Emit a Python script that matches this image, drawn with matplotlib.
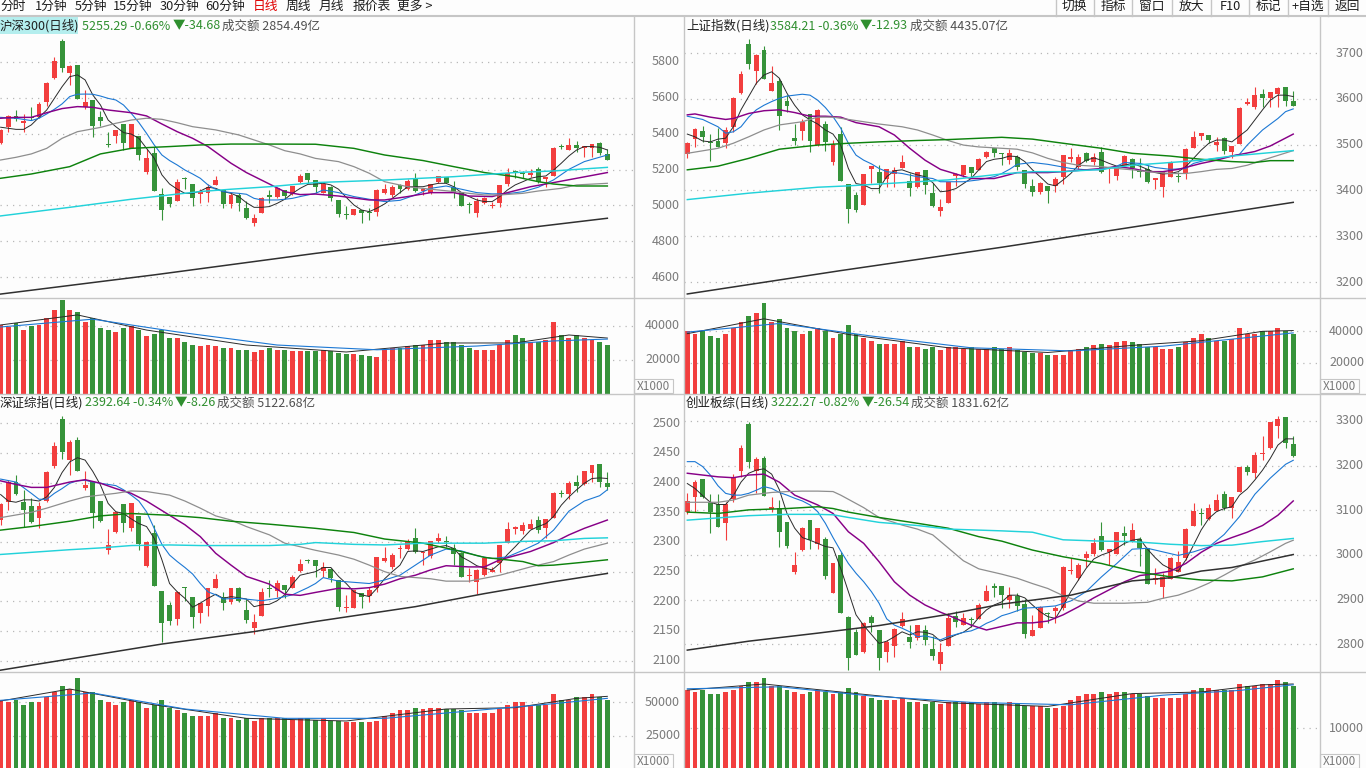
import numpy as np
import matplotlib.pyplot as plt
from matplotlib.lines import Line2D
from matplotlib.patches import Rectangle
from matplotlib.transforms import blended_transform_factory

plt.rcParams["font.family"] = ["Noto Sans CJK SC", "DejaVu Sans"]

# =========================
# DATA  (80 daily candles per index, volume in x1000)
# =========================

# --- 沪深300 ---
hs_open = [5346, 5435, 5499, 5458, 5491, 5491, 5579, 5709, 5919, 5737,
           5784, 5547, 5588, 5491, 5343, 5388, 5454, 5318, 5387, 5188,
           5294, 5063, 5049, 5027, 5151, 5120, 5062, 5067, 5114, 5086,
           5008, 5058, 4984, 4903, 4959, 5056, 5049, 5086, 5062, 5132,
           5179, 5142, 5071, 5101, 5030, 4952, 4946, 4974, 4965, 4965,
           5067, 5058, 5114, 5090, 5155, 5082, 5071, 5132, 5160, 5105,
           5077, 5008, 4959, 5011, 4997, 5011, 5117, 5192, 5179, 5170,
           5201, 5145, 5164, 5328, 5309, 5337, 5318, 5322, 5350, 5287]
hs_close = [5421, 5499, 5480, 5472, 5486, 5566, 5685, 5808, 5769, 5778,
            5594, 5579, 5440, 5473, 5336, 5421, 5346, 5454, 5281, 5263,
            5082, 4974, 5008, 5129, 5145, 5039, 5080, 5101, 5142, 5008,
            5058, 5015, 4928, 4928, 5039, 5049, 5095, 5054, 5108, 5166,
            5142, 5105, 5119, 5039, 4952, 4946, 4980, 4956, 4959, 5086,
            5090, 5105, 5092, 5138, 5080, 5090, 5119, 5164, 5127, 5071,
            4996, 5004, 5024, 5043, 5002, 5114, 5183, 5183, 5173, 5183,
            5132, 5160, 5322, 5324, 5337, 5322, 5331, 5343, 5290, 5253]
hs_high = [5425, 5504, 5532, 5508, 5547, 5579, 5690, 5826, 5928, 5784,
           5784, 5644, 5588, 5527, 5411, 5421, 5454, 5454, 5387, 5313,
           5324, 5095, 5049, 5146, 5156, 5120, 5090, 5120, 5164, 5086,
           5071, 5067, 5027, 4952, 5049, 5086, 5105, 5086, 5108, 5173,
           5179, 5142, 5127, 5108, 5030, 4997, 4980, 4974, 4984, 5090,
           5120, 5114, 5120, 5146, 5179, 5095, 5119, 5164, 5160, 5136,
           5077, 5021, 5039, 5049, 5021, 5114, 5207, 5197, 5194, 5201,
           5216, 5160, 5328, 5343, 5374, 5359, 5331, 5343, 5354, 5313]
hs_low = [5340, 5411, 5473, 5411, 5476, 5486, 5555, 5704, 5746, 5672,
          5594, 5536, 5384, 5440, 5324, 5350, 5309, 5318, 5253, 5175,
          5082, 4919, 4989, 5027, 5090, 4999, 5015, 5021, 5114, 4984,
          4984, 4969, 4922, 4885, 4959, 5015, 5040, 5034, 5058, 5123,
          5127, 5067, 5067, 5026, 4937, 4924, 4946, 4904, 4919, 4941,
          5063, 5049, 5071, 5086, 5077, 5058, 5063, 5127, 5123, 5043,
          4996, 4959, 4933, 5008, 4984, 4989, 5108, 5155, 5155, 5160,
          5123, 5104, 5164, 5313, 5309, 5300, 5272, 5268, 5279, 5253]
hs_vol = [40600, 39400, 41700, 37600, 40000, 40600, 44700, 49400, 55300, 49400,
          48200, 42300, 44700, 38800, 37600, 36500, 38800, 40000, 37600, 34100,
          35300, 37600, 32900, 32900, 30600, 28800, 28200, 28800, 28200, 27000,
          27000, 25900, 25900, 24700, 25900, 27000, 26000, 26000, 25500, 25000,
          25000, 25500, 26000, 25000, 24000, 23500, 23500, 23000, 22500, 22000,
          25900, 27000, 27000, 28200, 28800, 28800, 31800, 31800, 30600, 30600,
          28800, 27000, 25900, 25900, 25900, 28800, 31800, 34700, 32900, 30600,
          30600, 31800, 42300, 34700, 32900, 34700, 32900, 31800, 30600, 28800]
hs_vma5_at = [0, 10, 19, 32, 45, 58, 67, 74, 79]
hs_vma5 = [40600, 46500, 37600, 28800, 24700, 30000, 30000, 34700, 32900]
hs_vma10_at = [0, 12, 23, 36, 49, 62, 72, 79]
hs_vma10 = [39400, 44000, 36500, 28800, 26000, 28200, 31200, 32300]
hs_ma5 = [5436, 5430, 5424, 5424, 5449, 5491, 5532, 5597, 5662, 5718,
          5728, 5700, 5616, 5560, 5476, 5439, 5406, 5398, 5374, 5318,
          5263, 5170, 5119, 5090, 5067, 5067, 5080, 5101, 5095, 5077,
          5067, 5049, 5015, 4989, 4989, 4993, 5011, 5034, 5067, 5095,
          5117, 5119, 5123, 5114, 5090, 5045, 5002, 4974, 4965, 4984,
          5008, 5039, 5071, 5104, 5104, 5104, 5114, 5123, 5123, 5104,
          5071, 5049, 5030, 5021, 5021, 5049, 5086, 5114, 5132, 5151,
          5160, 5164, 5197, 5235, 5276, 5309, 5328, 5328, 5324, 5309]
hs_ma10_at = [0, 2, 4, 5, 6, 7, 8, 9, 10, 11, 12, 13, 14, 15, 16, 17, 18, 19, 20, 21,
              22, 23, 24, 25, 26, 27, 28, 29, 30, 31, 32, 33, 34, 35, 36, 37, 38, 39, 40, 41,
              42, 44, 46, 48, 50, 52, 54, 56, 58, 60, 62, 64, 66, 68, 70, 72, 74, 76, 79]
hs_ma10 = [5491, 5486, 5473, 5486, 5510, 5536, 5566, 5607, 5620, 5621, 5620, 5610, 5597, 5588, 5560, 5514, 5462, 5402, 5337, 5281,
           5250, 5225, 5197, 5175, 5151, 5114, 5090, 5077, 5071, 5067, 5062, 5039, 5030, 5030, 5030, 5034, 5039, 5049, 5058, 5067,
           5086, 5071, 5049, 5034, 5021, 5028, 5058, 5095, 5108, 5090, 5071, 5064, 5065, 5076, 5101, 5142, 5201, 5244, 5281]
hs_ma20_at = [0, 2, 4, 6, 8, 10, 12, 14, 17, 19, 21, 23, 25, 27, 30, 32, 35, 37, 39, 41,
              44, 48, 50, 53, 56, 59, 61, 64, 66, 69, 72, 75, 79]
hs_ma20 = [5486, 5491, 5491, 5517, 5540, 5551, 5547, 5532, 5517, 5499, 5454, 5411, 5374, 5328, 5235, 5183, 5119, 5076, 5060, 5063,
           5052, 5030, 5030, 5049, 5071, 5071, 5052, 5049, 5071, 5104, 5127, 5151, 5183]
hs_ma30_at = [0, 2, 4, 6, 8, 10, 13, 15, 17, 19, 21, 23, 25, 28, 31, 35, 37, 39, 41, 44,
              46, 48, 50, 53, 56, 59, 61, 63, 65, 68, 70, 73, 75, 79]
hs_ma30 = [5253, 5268, 5287, 5318, 5374, 5411, 5435, 5458, 5476, 5486, 5480, 5461, 5439, 5421, 5393, 5337, 5305, 5287, 5262, 5244,
           5216, 5179, 5132, 5104, 5090, 5077, 5067, 5058, 5058, 5067, 5080, 5095, 5114, 5123]
hs_ma60_at = [0, 4, 9, 13, 17, 22, 26, 30, 35, 41, 46, 50, 55, 59, 63, 67, 70, 72, 75, 79]
hs_ma60 = [5151, 5175, 5216, 5287, 5318, 5328, 5337, 5342, 5342, 5341, 5318, 5281, 5250, 5216, 5183, 5160, 5132, 5119, 5108, 5108]
hs_ma120_at = [0, 9, 17, 22, 26, 30, 35, 41, 50, 59, 67, 72, 79]
hs_ma120 = [4941, 4989, 5034, 5058, 5077, 5090, 5104, 5127, 5141, 5160, 5183, 5192, 5212]
hs_ma250_at = [0, 20, 41, 60, 79]
hs_ma250 = [4505, 4612, 4732, 4831, 4928]

# --- 上证指数 ---
sh_open = [3479.5, 3511.5, 3530.4, 3504.2, 3508.6, 3504.2, 3539.1, 3613.4, 3719.6, 3661.4,
           3706.5, 3617.8, 3639.6, 3596.0, 3513.7, 3530.4, 3566.8, 3499.1, 3545.0, 3462.7,
           3523.0, 3414.0, 3390.0, 3368.1, 3446.0, 3440.9, 3424.2, 3435.8, 3448.2, 3421.2,
           3406.7, 3444.5, 3393.6, 3355.7, 3373.2, 3431.4, 3433.6, 3450.3, 3444.5, 3472.2,
           3491.8, 3482.4, 3466.4, 3473.6, 3444.5, 3409.6, 3397.2, 3409.6, 3409.6, 3428.5,
           3467.8, 3450.3, 3482.4, 3462.7, 3484.6, 3448.2, 3431.4, 3453.3, 3467.8, 3444.5,
           3446.0, 3422.7, 3406.7, 3430.0, 3431.4, 3437.2, 3491.8, 3518.8, 3520.9, 3499.1,
           3513.7, 3484.6, 3501.3, 3588.6, 3581.4, 3610.5, 3601.0, 3610.5, 3625.1, 3595.9]
sh_close = [3504.2, 3533.3, 3515.8, 3502.7, 3495.5, 3531.9, 3602.5, 3654.1, 3675.2, 3695.6,
            3642.5, 3633.8, 3562.4, 3584.3, 3508.6, 3550.1, 3508.6, 3575.5, 3506.4, 3501.3,
            3421.2, 3358.6, 3357.2, 3435.8, 3453.3, 3416.9, 3446.0, 3444.5, 3462.7, 3404.5,
            3440.9, 3411.8, 3366.0, 3363.0, 3419.1, 3435.8, 3455.4, 3437.2, 3467.8, 3484.6,
            3482.4, 3479.5, 3480.9, 3450.3, 3414.0, 3397.2, 3416.9, 3399.4, 3424.2, 3477.3,
            3473.6, 3472.2, 3464.9, 3472.2, 3440.9, 3450.3, 3453.3, 3475.1, 3448.2, 3440.9,
            3419.1, 3426.3, 3440.9, 3459.1, 3430.0, 3489.6, 3515.8, 3526.0, 3510.0, 3506.4,
            3486.7, 3496.9, 3579.2, 3593.7, 3607.6, 3601.0, 3614.8, 3622.9, 3595.9, 3585.0]
sh_high = [3506.0, 3535.5, 3540.6, 3523.0, 3535.5, 3539.0, 3604.6, 3661.4, 3729.8, 3697.8,
           3715.3, 3671.6, 3644.7, 3608.3, 3545.0, 3555.2, 3566.8, 3577.0, 3552.3, 3510.0,
           3537.7, 3414.0, 3397.2, 3435.8, 3453.3, 3455.4, 3446.0, 3451.8, 3477.3, 3437.2,
           3440.9, 3444.5, 3415.4, 3380.5, 3419.1, 3438.7, 3455.4, 3450.3, 3470.0, 3486.7,
           3491.8, 3482.4, 3489.6, 3477.3, 3444.5, 3424.2, 3419.1, 3409.6, 3430.0, 3477.3,
           3491.8, 3479.5, 3484.6, 3482.4, 3495.5, 3450.3, 3453.3, 3477.3, 3470.0, 3470.0,
           3455.4, 3426.3, 3440.9, 3464.9, 3440.9, 3491.8, 3530.4, 3526.0, 3520.9, 3515.8,
           3517.3, 3496.9, 3582.8, 3601.0, 3625.1, 3620.7, 3614.8, 3625.1, 3626.5, 3617.8]
sh_low = [3470.0, 3495.5, 3506.4, 3465.0, 3494.0, 3492.0, 3528.2, 3610.5, 3664.3, 3632.3,
          3642.5, 3617.8, 3531.9, 3571.9, 3499.1, 3510.0, 3484.6, 3497.0, 3486.7, 3455.4,
          3421.2, 3328.1, 3353.5, 3368.1, 3416.9, 3393.6, 3406.7, 3408.2, 3448.2, 3388.5,
          3404.5, 3392.1, 3363.0, 3344.8, 3373.2, 3409.6, 3430.0, 3426.3, 3444.5, 3470.0,
          3472.2, 3455.4, 3457.6, 3444.5, 3404.5, 3387.8, 3392.1, 3373.2, 3397.2, 3414.0,
          3462.7, 3446.0, 3462.7, 3455.4, 3438.7, 3416.9, 3422.7, 3451.8, 3427.8, 3428.5,
          3416.9, 3402.3, 3384.9, 3430.0, 3419.1, 3424.2, 3491.8, 3510.0, 3504.2, 3486.7,
          3479.5, 3470.0, 3501.3, 3586.4, 3577.0, 3581.4, 3581.4, 3581.4, 3584.3, 3585.0]
sh_vol = [40000, 38000, 40000, 37000, 36000, 38000, 42000, 46000, 50000, 52000,
          58000, 46000, 48000, 42000, 40000, 38000, 40000, 42000, 40000, 36000,
          38000, 44000, 38000, 36000, 34000, 32000, 32000, 32000, 34000, 30000,
          30000, 29000, 30000, 28000, 30000, 30000, 29000, 30000, 29000, 29000,
          30000, 29000, 30000, 28000, 27000, 26000, 26000, 25000, 25000, 25000,
          28000, 29000, 30000, 31000, 32000, 31000, 33000, 34000, 33000, 32000,
          30000, 30000, 29000, 29000, 30000, 33000, 36000, 38000, 36000, 34000,
          34000, 35000, 42000, 38000, 38000, 40000, 40000, 42000, 40000, 38000]
sh_vma5_at = [0, 10, 21, 34, 47, 58, 67, 75, 79]
sh_vma5 = [38500, 48000, 38000, 29500, 26500, 31000, 34000, 40000, 40500]
sh_vma10_at = [0, 12, 24, 37, 50, 62, 72, 79]
sh_vma10 = [39500, 45000, 37000, 29500, 27500, 30500, 35500, 39000]
sh_ma5 = [3523, 3517, 3508, 3506, 3512, 3514, 3539, 3576, 3605, 3634,
          3652, 3659, 3645, 3612, 3586, 3565, 3554, 3545, 3532, 3523,
          3499, 3448, 3415, 3412, 3404, 3404, 3430, 3443, 3445, 3439,
          3434, 3430, 3417, 3397, 3399, 3404, 3415, 3426, 3445, 3463,
          3468, 3470, 3475, 3474, 3463, 3445, 3430, 3414, 3410, 3423,
          3437, 3455, 3466, 3471, 3466, 3459, 3453, 3455, 3459, 3453,
          3446, 3439, 3436, 3437, 3441, 3452, 3470, 3488, 3503, 3510,
          3510, 3506, 3519, 3532, 3554, 3576, 3597, 3608, 3608, 3605]
sh_ma10_at = [0, 2, 4, 5, 6, 7, 8, 9, 10, 11, 12, 13, 14, 15, 16, 17, 18, 19, 20, 21,
              22, 23, 24, 25, 26, 28, 30, 32, 33, 36, 38, 40, 41, 42, 43, 45, 47, 50, 52, 54,
              56, 57, 59, 61, 63, 65, 66, 68, 70, 72, 73, 75, 77, 78, 79]
sh_ma10 = [3562, 3555, 3539, 3525, 3528, 3539, 3560, 3576, 3586, 3594, 3601, 3606, 3608, 3610, 3608, 3597, 3581, 3561, 3536, 3503,
           3477, 3466, 3458, 3448, 3441, 3437, 3430, 3426, 3419, 3419, 3423, 3430, 3437, 3446, 3457, 3461, 3457, 3448, 3445, 3445,
           3453, 3461, 3459, 3450, 3446, 3448, 3459, 3468, 3472, 3479, 3499, 3532, 3557, 3572, 3578]
sh_ma20_at = [0, 1, 3, 5, 6, 8, 10, 12, 14, 16, 18, 20, 22, 25, 27, 29, 31, 33, 35, 37,
              40, 41, 43, 45, 47, 49, 52, 54, 56, 58, 60, 62, 64, 67, 69, 71, 74, 76, 79]
sh_ma20 = [3565, 3567, 3560, 3555, 3557, 3568, 3574, 3576, 3570, 3562, 3562, 3560, 3548, 3539, 3521, 3492, 3466, 3446, 3436, 3426,
           3426, 3430, 3439, 3439, 3439, 3441, 3445, 3448, 3452, 3448, 3441, 3441, 3446, 3459, 3466, 3475, 3485, 3497, 3523]
sh_ma30_at = [0, 4, 6, 8, 10, 12, 15, 17, 19, 21, 23, 25, 28, 30, 32, 34, 36, 38, 41, 43,
              45, 47, 49, 51, 54, 56, 58, 60, 63, 65, 67, 69, 71, 73, 75, 79]
sh_ma30 = [3481, 3492, 3503, 3517, 3532, 3543, 3550, 3560, 3560, 3555, 3550, 3545, 3539, 3532, 3521, 3509, 3499, 3495, 3492, 3490,
           3482, 3470, 3461, 3455, 3452, 3448, 3445, 3441, 3437, 3437, 3441, 3446, 3448, 3455, 3466, 3487]
sh_ma60_at = [0, 4, 8, 12, 17, 21, 25, 30, 34, 41, 45, 49, 54, 58, 63, 67, 71, 74, 76, 79]
sh_ma60 = [3445, 3453, 3470, 3490, 3499, 3503, 3506, 3509, 3511, 3516, 3512, 3503, 3492, 3481, 3475, 3468, 3463, 3461, 3465, 3465]
sh_ma120_at = [0, 8, 17, 21, 25, 30, 34, 41, 45, 49, 54, 58, 63, 67, 71, 75, 79]
sh_ma120 = [3380, 3394, 3407, 3410, 3414, 3419, 3423, 3436, 3441, 3441, 3446, 3455, 3461, 3466, 3475, 3481, 3487]
sh_ma250_at = [0, 20, 41, 60, 79]
sh_ma250 = [3174, 3225, 3276, 3325, 3374]

# --- 深证综指 ---
sz_open = [2337.1, 2366.8, 2400.5, 2366.8, 2361.2, 2339.9, 2369.1, 2428.6, 2507.3, 2438.2,
           2471.9, 2391.6, 2400.5, 2369.1, 2286.5, 2316.3, 2363.5, 2324.1, 2344.4, 2260.1,
           2314.6, 2217.4, 2193.8, 2170.2, 2224.7, 2207.9, 2179.8, 2192.7, 2223.0, 2207.9,
           2199.5, 2223.0, 2185.4, 2155.6, 2175.9, 2221.9, 2217.4, 2227.5, 2223.0, 2251.1,
           2269.7, 2269.7, 2251.1, 2254.5, 2235.9, 2189.3, 2189.3, 2213.5, 2209.6, 2223.0,
           2268.0, 2258.4, 2287.6, 2288.2, 2306.2, 2280.9, 2277.0, 2301.7, 2301.7, 2290.4,
           2280.9, 2243.3, 2232.0, 2244.4, 2250.0, 2264.0, 2297.7, 2321.9, 2318.5, 2321.9,
           2337.1, 2324.1, 2341.0, 2382.0, 2380.3, 2400.5, 2397.2, 2415.7, 2430.9, 2398.8]
sz_close = [2363.5, 2401.7, 2380.9, 2353.9, 2334.3, 2361.2, 2418.5, 2462.3, 2452.2, 2469.1,
            2419.6, 2396.0, 2348.3, 2335.4, 2294.9, 2350.0, 2331.4, 2365.2, 2296.0, 2300.5,
            2226.4, 2162.9, 2166.9, 2216.3, 2221.9, 2174.2, 2196.6, 2221.9, 2237.6, 2196.6,
            2223.0, 2200.6, 2168.6, 2165.7, 2215.2, 2220.8, 2230.3, 2219.1, 2241.6, 2262.4,
            2268.0, 2260.1, 2258.4, 2239.9, 2191.0, 2191.0, 2219.1, 2207.9, 2219.1, 2274.2,
            2273.6, 2278.1, 2289.3, 2300.5, 2282.6, 2283.7, 2301.7, 2307.3, 2299.4, 2279.2,
            2241.6, 2244.4, 2252.8, 2272.5, 2252.8, 2294.9, 2321.9, 2325.8, 2328.6, 2329.8,
            2320.2, 2338.8, 2382.0, 2380.3, 2398.8, 2394.9, 2419.6, 2429.7, 2401.7, 2393.2]
sz_high = [2365.0, 2404.5, 2412.9, 2387.6, 2373.6, 2368.0, 2419.6, 2467.9, 2512.9, 2471.9,
           2477.5, 2419.6, 2400.5, 2369.1, 2321.9, 2351.1, 2363.5, 2365.2, 2344.4, 2301.7,
           2328.6, 2217.4, 2199.5, 2217.4, 2224.7, 2207.9, 2196.6, 2223.0, 2245.5, 2216.3,
           2223.0, 2224.7, 2203.9, 2178.1, 2221.9, 2235.9, 2235.9, 2227.5, 2244.4, 2271.4,
           2271.4, 2269.7, 2266.9, 2256.7, 2235.9, 2210.7, 2219.1, 2213.5, 2224.7, 2274.2,
           2292.1, 2280.9, 2295.0, 2305.1, 2323.0, 2283.7, 2301.7, 2314.6, 2310.1, 2296.0,
           2283.7, 2256.7, 2254.5, 2273.6, 2258.4, 2294.9, 2334.3, 2327.5, 2334.3, 2338.8,
           2344.4, 2338.8, 2384.8, 2387.6, 2402.8, 2412.9, 2419.6, 2429.7, 2430.9, 2418.5]
sz_low = [2328.6, 2353.9, 2379.2, 2325.8, 2331.5, 2323.0, 2366.8, 2425.3, 2439.9, 2412.9,
          2419.6, 2387.6, 2324.1, 2334.3, 2279.2, 2314.6, 2317.4, 2318.5, 2286.5, 2258.4,
          2226.4, 2132.1, 2160.1, 2160.1, 2200.6, 2154.5, 2163.0, 2175.9, 2223.0, 2185.4,
          2195.0, 2199.5, 2162.9, 2144.4, 2175.9, 2207.9, 2207.9, 2206.2, 2221.9, 2250.0,
          2264.0, 2241.6, 2241.6, 2232.0, 2183.7, 2182.6, 2189.3, 2189.3, 2199.5, 2215.2,
          2266.9, 2254.5, 2273.6, 2286.5, 2280.9, 2261.2, 2272.5, 2297.7, 2292.1, 2261.2,
          2241.6, 2232.0, 2211.8, 2243.3, 2248.9, 2250.0, 2297.7, 2312.9, 2312.9, 2321.9,
          2314.6, 2307.3, 2341.0, 2376.4, 2372.4, 2383.7, 2396.0, 2400.5, 2393.2, 2387.6]
sz_vol = [52000, 50000, 52000, 48000, 50000, 50000, 54000, 58000, 62000, 60000,
          68000, 58000, 58000, 52000, 50000, 48000, 50000, 52000, 50000, 46000,
          48000, 52000, 46000, 44000, 42000, 40000, 40000, 40000, 42000, 38000,
          38000, 37000, 38000, 36000, 38000, 38000, 38000, 38000, 37000, 38000,
          38000, 37000, 38000, 36000, 36000, 35000, 35000, 35000, 35000, 36000,
          40000, 42000, 44000, 44000, 46000, 45000, 46000, 46000, 45000, 45000,
          44000, 42000, 42000, 42000, 42000, 45000, 48000, 50000, 50000, 48000,
          48000, 48000, 56000, 52000, 52000, 54000, 54000, 56000, 54000, 52000]
sz_vma5_at = [0, 9, 19, 32, 45, 58, 67, 75, 79]
sz_vma5 = [51000, 60000, 49000, 38000, 36000, 45000, 46000, 53000, 54500]
sz_vma10_at = [0, 12, 24, 37, 50, 62, 72, 79]
sz_vma10 = [51500, 57000, 45000, 38000, 38000, 44000, 49000, 53000]
sz_ma5 = [2380, 2369, 2367, 2371, 2371, 2369, 2376, 2392, 2417, 2435,
          2442, 2438, 2419, 2396, 2365, 2351, 2348, 2339, 2331, 2326,
          2306, 2270, 2230, 2216, 2205, 2190, 2197, 2205, 2212, 2205,
          2208, 2206, 2204, 2191, 2194, 2195, 2201, 2211, 2229, 2244,
          2247, 2250, 2257, 2257, 2242, 2230, 2216, 2211, 2208, 2222,
          2238, 2250, 2261, 2284, 2285, 2284, 2288, 2292, 2294, 2289,
          2275, 2268, 2260, 2256, 2253, 2264, 2279, 2292, 2306, 2320,
          2326, 2331, 2343, 2362, 2376, 2388, 2399, 2407, 2408, 2407]
sz_ma10_at = [0, 2, 4, 5, 6, 7, 8, 9, 10, 11, 12, 14, 15, 16, 17, 18, 19, 20, 21, 22,
              23, 24, 25, 26, 27, 28, 29, 31, 34, 36, 38, 39, 40, 41, 42, 44, 46, 48, 50, 52,
              54, 56, 58, 60, 62, 64, 66, 68, 70, 72, 74, 76, 78, 79]
sz_ma10 = [2406, 2401, 2382, 2372, 2372, 2382, 2390, 2399, 2403, 2404, 2401, 2397, 2395, 2388, 2379, 2369, 2351, 2323, 2296, 2278,
           2267, 2257, 2246, 2230, 2216, 2211, 2204, 2205, 2201, 2205, 2211, 2217, 2223, 2230, 2240, 2234, 2232, 2230, 2236, 2244,
           2261, 2278, 2288, 2285, 2277, 2272, 2275, 2286, 2298, 2320, 2352, 2369, 2378, 2388]
sz_ma20_at = [0, 2, 4, 6, 9, 11, 13, 15, 17, 19, 22, 24, 26, 28, 30, 32, 35, 37, 39, 41,
              44, 46, 48, 50, 52, 54, 56, 58, 61, 63, 65, 67, 69, 72, 74, 76, 79]
sz_ma20 = [2403, 2397, 2392, 2392, 2401, 2405, 2399, 2390, 2382, 2369, 2345, 2329, 2309, 2281, 2261, 2242, 2229, 2212, 2210, 2215,
           2222, 2221, 2223, 2229, 2238, 2244, 2253, 2260, 2258, 2258, 2270, 2277, 2284, 2299, 2312, 2323, 2337]
sz_ma30_at = [0, 4, 6, 9, 11, 13, 15, 17, 19, 22, 24, 26, 28, 30, 32, 35, 37, 39, 41, 44,
              46, 48, 50, 52, 54, 56, 58, 61, 63, 65, 67, 69, 72, 74, 76, 79]
sz_ma30 = [2341, 2350, 2357, 2369, 2376, 2379, 2382, 2386, 2385, 2379, 2369, 2357, 2344, 2337, 2326, 2312, 2298, 2292, 2286, 2278,
           2271, 2261, 2250, 2242, 2240, 2238, 2234, 2234, 2239, 2244, 2251, 2258, 2267, 2278, 2288, 2298]
sz_ma60_at = [0, 4, 9, 13, 17, 22, 26, 30, 35, 41, 46, 50, 55, 59, 63, 68, 70, 72, 76, 79]
sz_ma60 = [2320, 2326, 2335, 2344, 2348, 2345, 2341, 2335, 2330, 2323, 2316, 2305, 2298, 2287, 2274, 2267, 2260, 2261, 2266, 2270]
sz_ma120_at = [0, 9, 13, 17, 22, 26, 35, 39, 41, 46, 50, 55, 63, 68, 72, 76, 79]
sz_ma120 = [2279, 2287, 2290, 2294, 2295, 2294, 2294, 2296, 2299, 2296, 2295, 2298, 2298, 2301, 2302, 2306, 2307]
sz_ma250_at = [0, 21, 33, 41, 54, 63, 72, 79]
sz_ma250 = [2084, 2128, 2149, 2166, 2191, 2213, 2233, 2247]

# --- 创业板综 ---
cy_open = [3095.5, 3130.5, 3170.1, 3117.9, 3113.4, 3070.8, 3125.3, 3188.0, 3292.5, 3188.0,
           3216.4, 3102.9, 3105.9, 3073.1, 2961.1, 3011.1, 3078.3, 3023.8, 3035.8, 2914.1,
           2999.9, 2861.8, 2826.8, 2782.0, 2861.8, 2832.0, 2783.5, 2797.0, 2841.7, 2817.1,
           2814.9, 2832.0, 2789.4, 2755.1, 2796.9, 2864.1, 2843.2, 2856.6, 2856.6, 2896.9,
           2931.3, 2931.3, 2899.2, 2908.9, 2889.5, 2819.3, 2837.2, 2869.3, 2874.5, 2880.5,
           2964.1, 2947.7, 2994.0, 3001.4, 3043.2, 3007.4, 3001.4, 3048.5, 3031.3, 3035.8,
           3016.4, 2944.0, 2929.0, 2946.2, 2962.6, 2992.5, 3065.6, 3093.2, 3080.5, 3098.4,
           3135.8, 3105.9, 3141.7, 3197.7, 3182.8, 3225.3, 3238.8, 3289.5, 3309.7, 3247.7]
cy_close = [3120.8, 3162.6, 3130.5, 3095.5, 3063.4, 3113.4, 3175.3, 3238.8, 3208.9, 3214.9,
            3132.8, 3108.2, 3050.7, 3020.8, 2977.5, 3061.1, 3033.5, 3061.1, 2953.6, 2981.3,
            2869.3, 2770.0, 2776.0, 2847.0, 2847.0, 2770.0, 2804.4, 2834.2, 2856.6, 2805.9,
            2843.2, 2809.6, 2774.5, 2783.5, 2858.1, 2850.7, 2859.6, 2854.4, 2888.0, 2919.3,
            2925.3, 2910.4, 2910.4, 2886.5, 2822.3, 2832.0, 2884.2, 2867.1, 2882.0, 2973.8,
            2966.4, 2977.5, 3001.4, 3026.1, 3011.1, 3013.4, 3050.7, 3043.2, 3055.9, 3014.9,
            2934.2, 2947.7, 2951.4, 2994.0, 2983.5, 3058.2, 3098.4, 3091.0, 3104.4, 3123.0,
            3104.4, 3130.5, 3197.7, 3186.5, 3223.9, 3227.6, 3298.5, 3304.5, 3250.0, 3222.4]
cy_high = [3138.0, 3167.9, 3170.1, 3135.8, 3135.8, 3117.9, 3180.6, 3246.2, 3298.5, 3220.1,
           3222.4, 3130.5, 3123.0, 3073.1, 3005.9, 3063.4, 3078.3, 3061.1, 3041.0, 2981.3,
           3005.9, 2864.1, 2834.2, 2850.7, 2865.6, 2832.0, 2809.6, 2837.2, 2871.5, 2843.2,
           2843.2, 2843.2, 2819.3, 2802.1, 2869.3, 2874.5, 2869.3, 2861.8, 2891.7, 2932.8,
           2936.5, 2931.3, 2929.0, 2914.1, 2901.4, 2865.6, 2886.5, 2873.0, 2886.5, 2976.0,
           2992.5, 2981.3, 3008.9, 3037.3, 3074.6, 3013.4, 3052.2, 3065.6, 3070.8, 3041.0,
           3016.4, 2970.1, 2958.9, 2996.2, 3008.9, 3061.1, 3115.6, 3104.4, 3113.4, 3135.8,
           3143.2, 3130.5, 3197.7, 3201.5, 3229.8, 3267.1, 3298.5, 3311.9, 3309.7, 3267.1]
cy_low = [3091.0, 3097.0, 3126.8, 3048.5, 3063.4, 3033.5, 3117.9, 3175.3, 3195.5, 3138.0,
          3132.8, 3097.0, 3018.6, 3014.9, 2956.6, 3008.9, 3013.4, 3013.4, 2946.2, 2914.1,
          2869.3, 2742.4, 2776.0, 2779.7, 2828.3, 2742.4, 2761.1, 2772.3, 2839.4, 2792.4,
          2809.6, 2798.4, 2764.8, 2742.4, 2796.9, 2839.4, 2843.2, 2839.4, 2856.6, 2896.9,
          2906.6, 2880.5, 2882.0, 2874.5, 2813.3, 2819.3, 2837.2, 2846.9, 2846.9, 2876.8,
          2956.6, 2944.0, 2973.8, 2998.4, 3008.9, 2977.5, 3001.4, 3022.3, 3029.8, 2976.0,
          2934.2, 2934.2, 2904.4, 2946.2, 2961.1, 2988.7, 3065.6, 3067.1, 3078.3, 3098.4,
          3100.7, 3082.0, 3140.2, 3179.0, 3173.1, 3212.7, 3237.3, 3262.7, 3238.8, 3220.1]
cy_vol = [19500, 19000, 19500, 18500, 18500, 19000, 19500, 20500, 21500, 21500,
          22500, 20500, 20500, 19500, 19000, 18500, 19000, 19500, 19000, 18500,
          19000, 20000, 19000, 18000, 17500, 17000, 17000, 17000, 17500, 16500,
          16500, 16000, 16500, 16000, 16500, 16500, 16500, 16500, 16000, 16500,
          16500, 16000, 16500, 16000, 15500, 15500, 15500, 15000, 15000, 15500,
          17000, 18000, 18500, 18500, 19000, 18500, 19000, 19000, 18500, 18500,
          18000, 17500, 17500, 17500, 17500, 18500, 19500, 20000, 20000, 19500,
          19500, 19500, 21000, 20500, 20500, 21000, 21000, 22000, 21500, 20500]
cy_vma5_at = [0, 10, 21, 34, 47, 58, 67, 75, 79]
cy_vma5 = [19500, 21000, 18800, 16300, 15400, 18600, 19000, 20800, 21000]
cy_vma10_at = [0, 12, 24, 37, 50, 62, 72, 79]
cy_vma10 = [19800, 20300, 18000, 16400, 15800, 18200, 19400, 20800]
cy_ma5 = [3160, 3149, 3133, 3118, 3113, 3113, 3133, 3163, 3183, 3190,
          3193, 3181, 3146, 3093, 3060, 3039, 3033, 3026, 3019, 3016,
          2970, 2918, 2866, 2842, 2822, 2802, 2807, 2817, 2828, 2821,
          2828, 2827, 2822, 2807, 2813, 2821, 2827, 2839, 2860, 2877,
          2888, 2895, 2910, 2910, 2904, 2888, 2873, 2862, 2858, 2886,
          2918, 2944, 2970, 2991, 3000, 3006, 3015, 3026, 3033, 3036,
          3013, 2994, 2978, 2969, 2964, 2989, 3022, 3056, 3082, 3097,
          3104, 3108, 3134, 3148, 3168, 3190, 3216, 3246, 3260, 3260]
cy_ma10_at = list(range(42)) + list(range(42, 80, 2)) + [79]
cy_ma10 = [3209, 3209, 3198, 3179, 3155, 3138, 3134, 3134, 3138, 3145, 3153, 3149, 3140, 3134, 3127, 3121, 3112, 3097, 3071, 3039,
           3009, 2981, 2959, 2940, 2918, 2892, 2857, 2843, 2836, 2828, 2817, 2819, 2815, 2810, 2817, 2822, 2827, 2830, 2837, 2847,
           2854, 2864, 2869, 2881, 2883, 2886, 2897, 2918, 2951, 2981, 3013, 3015, 3007, 2999, 3007, 3018, 3046, 3086, 3136, 3172,
           3203, 3212]
cy_ma20_at = [0, 2, 4, 6, 8, 10, 12, 14, 17, 19, 21, 23, 25, 27, 29, 31, 33, 35, 37, 39,
              41, 43, 45, 47, 49, 51, 53, 55, 57, 59, 61, 63, 65, 67, 69, 71, 73, 75, 77, 79]
cy_ma20 = [3183, 3179, 3175, 3173, 3179, 3181, 3163, 3134, 3112, 3093, 3052, 3026, 2985, 2940, 2910, 2888, 2872, 2858, 2843, 2832,
           2840, 2848, 2848, 2852, 2866, 2884, 2904, 2922, 2940, 2954, 2958, 2964, 2981, 3006, 3026, 3039, 3051, 3066, 3089, 3121]
cy_ma30_at = [0, 4, 6, 8, 11, 13, 15, 17, 19, 20, 23, 25, 28, 30, 32, 34, 36, 38, 41, 43,
              45, 47, 49, 51, 53, 57, 60, 62, 64, 66, 68, 70, 72, 74, 76, 78, 79]
cy_ma30 = [3118, 3118, 3123, 3134, 3140, 3142, 3143, 3143, 3142, 3134, 3106, 3084, 3067, 3058, 3045, 3016, 2987, 2969, 2957, 2948,
           2936, 2925, 2909, 2897, 2892, 2892, 2894, 2903, 2910, 2922, 2937, 2955, 2974, 2989, 3007, 3026, 3033]
cy_ma60_at = [0, 4, 8, 13, 17, 19, 21, 25, 30, 34, 38, 41, 45, 49, 54, 58, 63, 67, 71, 75, 79]
cy_ma60 = [3096, 3093, 3101, 3104, 3108, 3104, 3096, 3084, 3071, 3060, 3041, 3031, 3011, 2996, 2981, 2964, 2951, 2944, 2942, 2951, 2969]
cy_ma120_at = [0, 8, 13, 17, 19, 21, 25, 30, 34, 41, 45, 49, 54, 58, 63, 67, 71, 75, 79]
cy_ma120 = [3078, 3088, 3091, 3091, 3090, 3084, 3073, 3066, 3058, 3054, 3051, 3034, 3031, 3030, 3024, 3021, 3022, 3030, 3037]
cy_ma250_at = [0, 8, 17, 25, 34, 41, 50, 58, 63, 67, 71, 79]
cy_ma250 = [2787, 2807, 2825, 2842, 2867, 2890, 2910, 2942, 2949, 2964, 2972, 3001]

# =========================
# STYLE
# =========================
W, H = 1366, 768
BG = "#fdfdfd"
RED = "#f23e3e"
GREEN = "#36933a"
GRID = "#b8b8b8"
SEP = "#c6c6c6"
LABEL = "#7a7a7a"
TXT_GREEN = "#2f8f2f"
TXT_GRAY = "#505050"

MA_STYLE = [  # ma5, ma10, ma20, ma30, ma60, ma120, ma250
    ("#2a2a2a", 0.7),
    ("#1c78d4", 0.8),
    ("#870087", 1.05),
    ("#8e8e8e", 0.9),
    ("#0d820d", 1.05),
    ("#22d2da", 1.05),
    ("#303030", 1.1),
]

fig = plt.figure(figsize=(W / 100, H / 100), dpi=100)
fig.patch.set_facecolor(BG)


def px_axes(x0, y0, x1, y1):
    ax = fig.add_axes([x0 / W, 1 - y1 / H, (x1 - x0) / W, (y1 - y0) / H])
    ax.set_facecolor(BG)
    for s in ax.spines.values():
        s.set_visible(False)
    ax.set_xticks([])
    ax.set_yticks([])
    return ax


def fig_line(x0, y0, x1, y1, color=SEP, lw=1.0):
    fig.add_artist(Line2D([x0 / W, x1 / W], [1 - y0 / H, 1 - y1 / H],
                          transform=fig.transFigure, color=color, lw=lw))


def fig_text(x, y, s, **kw):
    kw.setdefault("va", "center")
    kw.setdefault("fontsize", 9)
    fig.text(x / W, 1 - y / H, s, **kw)


def axis_labels(ax, ticks, label_x, fmt="{:d}"):
    tr = blended_transform_factory(fig.transFigure, ax.transData)
    for t in ticks:
        ax.text(label_x / W, t, fmt.format(t), transform=tr, ha="right", va="center",
                fontsize=9, color=LABEL, clip_on=False)
        ax.axhline(t, color=GRID, lw=0.9, ls=(0, (1, 4)), zorder=0)


def draw_candles(ax, o, c, h, l):
    o, c, h, l = map(np.asarray, (o, c, h, l))
    x = np.arange(len(o))
    col = np.where(c >= o, RED, GREEN)
    y0, y1 = ax.get_ylim()
    one_px = (y1 - y0) / (ax.bbox.height)
    ax.vlines(x, l, h, colors=col, lw=0.8, zorder=2)
    body = np.maximum(np.abs(c - o), one_px)
    ax.bar(x, body, bottom=np.minimum(o, c), width=0.64, color=col, lw=0, zorder=3)
    return col


def draw_panel(x0, x1, y_top, y_split, y_bot, xlim, ylim, vlim, ticks, vticks, label_x,
               o, c, h, l, vol, ma_lines, vol_lines):
    ax = px_axes(x0, y_top, x1, y_split)
    ax.set_xlim(*xlim)
    ax.set_ylim(*ylim)
    axis_labels(ax, ticks, label_x)
    col = draw_candles(ax, o, c, h, l)
    for (at, vals), (color, lw) in zip(ma_lines, MA_STYLE):
        if at is None:
            at = range(len(vals))
        ax.plot(list(at), vals, color=color, lw=lw, zorder=4, solid_joinstyle="round")

    vax = px_axes(x0, y_split + 1, x1, y_bot)
    vax.set_xlim(*xlim)
    vax.set_ylim(*vlim)
    axis_labels(vax, vticks, label_x)
    vax.bar(np.arange(len(vol)), vol, width=0.64, color=col, lw=0, zorder=2)
    for (at, vals), (color, lw) in zip(vol_lines, MA_STYLE[:2]):
        vax.plot(at, vals, color=color, lw=lw, zorder=4)
    return ax, vax


# =========================
# PANELS
# =========================
# top-left: 沪深300
draw_panel(0, 634, 17, 298, 394, (-0.08, 82.47), (4483, 6051), (0, 55860),
           [4600, 4800, 5000, 5200, 5400, 5600, 5800], [20000, 40000], 680,
           hs_open, hs_close, hs_high, hs_low, hs_vol,
           [(None, hs_ma5), (hs_ma10_at, hs_ma10), (hs_ma20_at, hs_ma20), (hs_ma30_at, hs_ma30),
            (hs_ma60_at, hs_ma60), (hs_ma120_at, hs_ma120), (hs_ma250_at, hs_ma250)],
           [(hs_vma5_at, hs_vma5), (hs_vma10_at, hs_vma10)])

# top-right: 上证指数
draw_panel(684, 1320, 17, 298, 394, (-0.43, 82.49), (3165.2, 3778.6), (0, 60630),
           [3200, 3300, 3400, 3500, 3600, 3700], [20000, 40000], 1364,
           sh_open, sh_close, sh_high, sh_low, sh_vol,
           [(None, sh_ma5), (sh_ma10_at, sh_ma10), (sh_ma20_at, sh_ma20), (sh_ma30_at, sh_ma30),
            (sh_ma60_at, sh_ma60), (sh_ma120_at, sh_ma120), (sh_ma250_at, sh_ma250)],
           [(sh_vma5_at, sh_vma5), (sh_vma10_at, sh_vma10)])

# bottom-left: 深证综指
draw_panel(0, 634, 395, 672, 768, (-0.08, 82.47), (2080.9, 2547.7), (758, 72000),
           [2100, 2150, 2200, 2250, 2300, 2350, 2400, 2450, 2500], [25000, 50000], 680,
           sz_open, sz_close, sz_high, sz_low, sz_vol,
           [(None, sz_ma5), (sz_ma10_at, sz_ma10), (sz_ma20_at, sz_ma20), (sz_ma30_at, sz_ma30),
            (sz_ma60_at, sz_ma60), (sz_ma120_at, sz_ma120), (sz_ma250_at, sz_ma250)],
           [(sz_vma5_at, sz_vma5), (sz_vma10_at, sz_vma10)])

# bottom-right: 创业板综
draw_panel(684, 1320, 395, 672, 768, (-0.43, 82.49), (2738, 3358.2), (0, 23750),
           [2800, 2900, 3000, 3100, 3200, 3300], [10000], 1364,
           cy_open, cy_close, cy_high, cy_low, cy_vol,
           [(None, cy_ma5), (cy_ma10_at, cy_ma10), (cy_ma20_at, cy_ma20), (cy_ma30_at, cy_ma30),
            (cy_ma60_at, cy_ma60), (cy_ma120_at, cy_ma120), (cy_ma250_at, cy_ma250)],
           [(cy_vma5_at, cy_vma5), (cy_vma10_at, cy_vma10)])

# =========================
# FRAME / SEPARATORS
# =========================
fig_line(0, 16, W, 16, lw=1.5)
for yy in (298, 394, 672):
    fig_line(0, yy, W, yy)
for xx in (634, 684, 1320):
    fig_line(xx, 17, xx, H)

# X1000 boxes
for bx, by in ((634, 379), (1320, 379), (634, 754), (1320, 754)):
    fig.add_artist(Rectangle((bx / W, 1 - (by + 14) / H), 39 / W, 14 / H, transform=fig.transFigure,
                             facecolor=BG, edgecolor=SEP, lw=0.8))
    fig_text(bx + 19.5, by + 7.5, "X1000", ha="center", color=LABEL, fontsize=8.5)

# =========================
# TOOLBAR
# =========================
tabs = [("分时", 0), ("1分钟", 35), ("5分钟", 75), ("15分钟", 113), ("30分钟", 160),
        ("60分钟", 205), ("日线", 253), ("周线", 286), ("月线", 319), ("报价表", 353), ("更多 >", 397)]
for name, tx in tabs:
    fig_text(tx, 6.5, name, ha="left", color="#e00000" if name == "日线" else "#1e1e1e", fontsize=9.2)

btn_edges = [1055.7, 1094, 1132, 1171.7, 1210.7, 1249.3, 1288.3, 1327.7, 1366]
btn_names = ["切换", "指标", "窗口", "放大", "F10", "标记", "+自选", "返回"]
for e in btn_edges[:-1]:
    fig_line(e, 0, e, 16)
for name, a, b in zip(btn_names, btn_edges[:-1], btn_edges[1:]):
    fig_text((a + b) / 2, 6.5, name, ha="center", color="#1e1e1e", fontsize=9.2)

# =========================
# PANEL TITLES
# =========================
fig.add_artist(Rectangle((0, 1 - 34 / H), 78 / W, 17 / H, transform=fig.transFigure,
                         facecolor="#b4eeee", edgecolor="none"))
titles = [
    (0, 26, "沪深300(日线)", "5255.29 -0.66%", "▼-34.68", "成交额 2854.49亿", (82, 173, 222)),
    (686, 26, "上证指数(日线)", "3584.21 -0.36%", "▼-12.93", "成交额 4435.07亿", (770, 860, 910)),
    (0, 403, "深证综指(日线)", "2392.64 -0.34%", "▼-8.26", "成交额 5122.68亿", (85, 175, 217)),
    (686, 403, "创业板综(日线)", "3222.27 -0.82%", "▼-26.54", "成交额 1831.62亿", (771, 862, 911)),
]
for tx, ty, name, chg, diff, amount, (p1, p2, p3) in titles:
    fig_text(tx, ty, name, ha="left", color="#202020")
    fig_text(p1, ty, chg, ha="left", color=TXT_GREEN)
    fig_text(p2, ty, diff, ha="left", color=TXT_GREEN)
    fig_text(p3, ty, amount, ha="left", color=TXT_GRAY)

fig.savefig("out.png", dpi=100, facecolor=fig.get_facecolor())
